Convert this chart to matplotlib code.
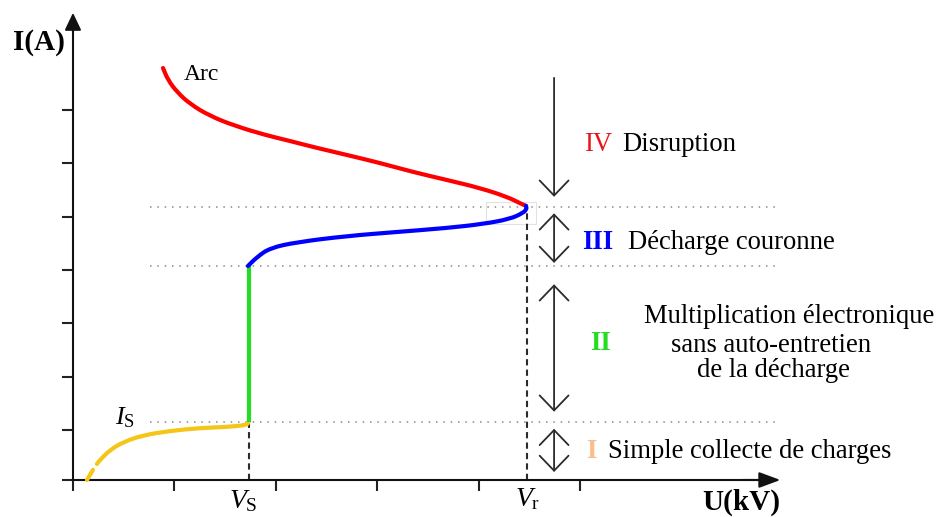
"""Courbe courant-tension d'une décharge : régimes I à IV."""

import matplotlib.pyplot as plt
from matplotlib.patches import PathPatch
from matplotlib.path import Path

plt.rcParams["font.family"] = ["Liberation Serif", "DejaVu Serif"]
plt.rcParams["mathtext.fontset"] = "custom"
plt.rcParams["mathtext.rm"] = "Liberation Serif"
plt.rcParams["mathtext.it"] = "Liberation Serif:italic"

# --- data (U in tick units, I in tick units) ---------------------------
V_S = 1.73
V_R = 4.47
I_S = 1.09
I_CORONA = 4.01
I_BREAK = 5.11

# regime I : simple collecte (drawn in two pieces, small break near origin)
u_col_a = [0.138, 0.197]
i_col_a = [0.0, 0.19]
u_col_b = [0.236, 0.266, 0.365, 0.493, 0.69, 0.956, 1.251, 1.517, 1.714, 1.73]
i_col_b = [0.30, 0.375, 0.5625, 0.71, 0.84, 0.92, 0.975, 0.994, 1.03, 1.09]

# regime II : multiplication (vertical at V_S)
u_mult = [V_S, V_S]
i_mult = [I_S, I_CORONA]

# regime III : couronne
u_cor = [1.724, 1.813, 1.941, 2.207, 2.70, 3.19, 3.685, 4.04, 4.305, 4.433, 4.47, 4.463]
i_cor = [4.013, 4.18, 4.35, 4.46, 4.575, 4.65, 4.725, 4.80, 4.894, 5.006, 5.08, 5.14]

# regime IV : disruption / arc
u_arc = [4.463, 4.404, 4.276, 4.01, 3.685, 3.35, 3.025, 2.70, 2.365,
         2.138, 1.892, 1.596, 1.35, 1.153, 1.025, 0.936, 0.887]
i_arc = [5.14, 5.19, 5.31, 5.475, 5.625, 5.775, 5.944, 6.094, 6.244,
         6.357, 6.47, 6.64, 6.825, 7.05, 7.275, 7.50, 7.725]

x_ticks = [0, 1, 2, 3, 4, 5]
y_ticks = [0, 0.94, 1.94, 2.94, 3.94, 4.94, 5.94, 6.94]

# region arrows: (u, top, bottom, double headed)
arrows = [
    (4.74, 7.54, 5.31, False),
    (4.74, 5.00, 4.07, True),
    (4.74, 3.67, 1.28, True),
    (4.74, 0.96, 0.15, True),
]

INK = "#2b2b2b"


def smooth_curve(ax, xs, ys, color, lw=3, z=4):
    # quadratic bezier through the midpoints -> smooth line through the read points
    pts = list(zip(xs, ys))
    verts = [pts[0]]
    codes = [Path.MOVETO]
    if len(pts) > 2:
        mid = ((pts[0][0] + pts[1][0]) / 2, (pts[0][1] + pts[1][1]) / 2)
        verts.append(mid)
        codes.append(Path.LINETO)
        for k in range(1, len(pts) - 1):
            nxt = ((pts[k][0] + pts[k + 1][0]) / 2, (pts[k][1] + pts[k + 1][1]) / 2)
            verts += [pts[k], nxt]
            codes += [Path.CURVE3, Path.CURVE3]
    verts.append(pts[-1])
    codes.append(Path.LINETO)
    ax.add_patch(PathPatch(Path(verts, codes), fill=False, ec=color, lw=lw,
                           capstyle="round", joinstyle="round", zorder=z))


fig = plt.figure(figsize=(9.41, 5.17), dpi=100)
ax = fig.add_axes([0, 0, 1, 1])
ax.set_xlim(-0.719, 8.552)
ax.set_ylim(-0.694, 9.0)

# axes through the origin
for side in ["top", "right"]:
    ax.spines[side].set_visible(False)
ax.spines["left"].set_position(("data", 0))
ax.spines["bottom"].set_position(("data", 0))
ax.spines["left"].set_bounds(0, 8.6)
ax.spines["bottom"].set_bounds(0, 6.85)
for side in ["left", "bottom"]:
    ax.spines[side].set_linewidth(1.5)
    ax.spines[side].set_color("#111111")
ax.set_xticks(x_ticks)
ax.set_yticks(y_ticks)
ax.set_xticklabels([])
ax.set_yticklabels([])
ax.tick_params(direction="out", length=8, width=1.5, color="#222222")

ax.annotate("", xy=(0, 8.76), xytext=(0, 8.4),
            arrowprops=dict(arrowstyle="-|>,head_length=1.05,head_width=0.5",
                            mutation_scale=10, color="#111111", lw=1.5,
                            shrinkA=0, shrinkB=0))
ax.annotate("", xy=(6.97, 0), xytext=(6.6, 0),
            arrowprops=dict(arrowstyle="-|>,head_length=1.3,head_width=0.48",
                            mutation_scale=10, color="#111111", lw=1.5,
                            shrinkA=0, shrinkB=0))

# guide lines
for lvl in [I_S, I_CORONA, I_BREAK]:
    ax.plot([0.759, 6.946], [lvl, lvl], color="#8a8a8a", lw=1.1,
            dashes=(1, 3.8), zorder=1)
ax.plot([V_S, V_S], [0, I_S], color=INK, lw=1.5, dashes=(3, 2), zorder=2)
ax.plot([V_R, V_R], [0, I_BREAK], color=INK, lw=1.5, dashes=(3, 2), zorder=2)
ax.add_patch(plt.Rectangle((4.071, 4.8), 0.49, 0.41, fill=False,
                           ec="#e2e2e2", lw=0.8, zorder=1))

# curves
smooth_curve(ax, u_col_a, i_col_a, "#F5C518")
smooth_curve(ax, u_col_b, i_col_b, "#F5C518")
ax.plot(u_mult, i_mult, color="#22DD22", lw=3, solid_capstyle="butt", zorder=4)
smooth_curve(ax, u_arc, i_arc, "#FF0000", z=4)
smooth_curve(ax, u_cor, i_cor, "#0000FF", z=5)

# region arrows
for u, top, bot, both in arrows:
    style = "<->" if both else "->"
    ax.annotate("", xy=(u, bot), xytext=(u, top),
                arrowprops=dict(arrowstyle=style + ",head_length=1.08,head_width=1.04",
                                mutation_scale=10, color=INK, lw=1.3,
                                shrinkA=0, shrinkB=0))

# texts
FS = 19.2
ax.text(5.04, 6.17, "IV", color="#E8141B", fontsize=FS, va="baseline")
ax.text(5.41, 6.17, "Disruption", color="black", fontsize=FS, va="baseline")
ax.text(5.02, 4.33, "III", color="#0000FF", fontsize=FS, fontweight="bold",
        va="baseline")
ax.text(5.47, 4.33, "Décharge couronne", color="black", fontsize=FS,
        va="baseline")
ax.text(5.10, 2.44, "II", color="#22DD22", fontsize=FS, fontweight="bold",
        va="baseline")
ax.text(7.054, 2.944, "Multiplication électronique", fontsize=FS,
        ha="center", va="baseline")
ax.text(6.877, 2.40, "sans auto-entretien", fontsize=FS, ha="center",
        va="baseline")
ax.text(6.906, 1.93, "de la décharge", fontsize=FS, ha="center", va="baseline")
ax.text(5.06, 0.41, "I", color="#F9BE8A", fontsize=FS, fontweight="bold",
        va="baseline")
ax.text(5.27, 0.41, "Simple collecte de charges", fontsize=FS, va="baseline")

ax.text(1.094, 7.50, "Arc", fontsize=17, va="baseline")
ax.text(0.61, 1.16, r"$I_{\mathrm{S}}$", fontsize=19, ha="right", va="center")
ax.text(1.68, -0.40, r"$V_{\mathrm{S}}$", fontsize=20, ha="center", va="center")
ax.text(4.48, -0.36, r"$V_{\mathrm{r}}$", fontsize=20, ha="center", va="center")
ax.text(-0.59, 8.21, "I(A)", fontsize=21, fontweight="bold", ha="left",
        va="center")
ax.text(6.20, -0.17, "U(kV)", fontsize=21, fontweight="bold", ha="left",
        va="top")

fig.savefig("out.png", dpi=100)
plt.close(fig)
